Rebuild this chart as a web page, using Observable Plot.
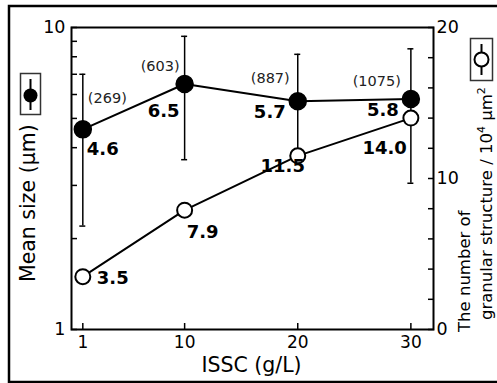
<!DOCTYPE html>
<html>
<head>
<meta charset="utf-8">
<script src="https://cdn.jsdelivr.net/npm/d3@7"></script>
<script src="https://cdn.jsdelivr.net/npm/@observablehq/plot@0.6"></script>
<style>
  html, body { margin: 0; padding: 0; background: #fff; }
  svg { display: block; }
</style>
</head>
<body>
<div id="chart"></div>
<script>
// ---- data ----
const issc = [1, 10, 20, 30];
const meanSize = [4.6, 6.5, 5.7, 5.8];
const sizeHigh = [7.0, 9.35, 8.15, 8.5];
const sizeLow = [2.2, 3.65, 3.9, 3.05];
const grainCount = [269, 603, 887, 1075];
const granularNumber = [3.5, 7.9, 11.5, 14.0];
const xTicks = [1, 10, 20, 30];
const leftTicks = [1, 2, 3, 4, 5, 6, 7, 8, 9, 10];
const leftTickLabels = [1, 10];
const rightTicks = [0, 2, 4, 6, 8, 10, 12, 14, 16, 18, 20];
const rightTickLabels = [0, 10, 20];

const sizeData = issc.map((c, i) => ({c, v: meanSize[i], hi: sizeHigh[i], lo: sizeLow[i], n: grainCount[i]}));
const numData = issc.map((c, i) => ({c, v: granularNumber[i]}));
// right axis (0–20, linear) mapped onto the shared log y scale (1–10)
const toLog = v => Math.pow(10, v / 20);

const FONT = "DejaVu Sans";

function label(data, i, text, opts) {
  return Plot.text(data, {filter: (d, j) => j === i, x: "c", text, fill: "#000", ...opts});
}

const chart = Plot.plot({
  width: 497,
  height: 383,
  marginLeft: 71,
  marginRight: 64,
  marginTop: 27,
  marginBottom: 54,
  style: {fontFamily: FONT, background: "white"},
  x: {type: "linear", domain: [0, 32]},
  y: {type: "log", domain: [1, 10]},
  marks: [
    Plot.axisX({ticks: xTicks, tickSize: -6, tickPadding: 12.8, fontSize: 17, label: null, strokeWidth: 1.5, fill: "#000"}),
    Plot.axisY({anchor: "left", ticks: leftTicks, tickFormat: d => leftTickLabels.includes(d) ? String(d) : "",
      tickSize: -6, tickPadding: 12, fontSize: 17.5, label: null, strokeWidth: 1.5, fill: "#000"}),
    Plot.axisY({anchor: "right", ticks: rightTicks.map(toLog),
      tickFormat: d => { const v = Math.round(20 * Math.log10(d)); return rightTickLabels.includes(v) ? String(v) : ""; },
      tickSize: -6, tickPadding: 9, fontSize: 17.5, label: null, strokeWidth: 1.5, fill: "#000"}),
    Plot.frame({stroke: "#000", strokeWidth: 2}),
    // error bars
    Plot.ruleX(sizeData, {x: "c", y1: "lo", y2: "hi", stroke: "#000", strokeWidth: 1.5}),
    Plot.ruleY(sizeData, {y: "hi", x1: "c", x2: "c", insetLeft: -3, insetRight: -3, stroke: "#000", strokeWidth: 1.5}),
    Plot.ruleY(sizeData, {y: "lo", x1: "c", x2: "c", insetLeft: -3, insetRight: -3, stroke: "#000", strokeWidth: 1.5}),
    // lines
    Plot.line(sizeData, {x: "c", y: "v", stroke: "#000", strokeWidth: 2}),
    Plot.line(numData, {x: "c", y: d => toLog(d.v), stroke: "#000", strokeWidth: 2}),
    // markers
    Plot.dot(sizeData, {x: "c", y: "v", r: 8.5, fill: "#000", stroke: "#000"}),
    Plot.dot(numData, {x: "c", y: d => toLog(d.v), r: 7.5, fill: "#fff", stroke: "#000", strokeWidth: 2}),
    // grain counts
    label(sizeData, 0, d => `(${d.n})`, {y: "v", textAnchor: "start", dx: 5, dy: -31, fontSize: 14.5, fill: "#222"}),
    label(sizeData, 1, d => `(${d.n})`, {y: "v", textAnchor: "end", dx: -5, dy: -18, fontSize: 14.5, fill: "#222"}),
    label(sizeData, 2, d => `(${d.n})`, {y: "v", textAnchor: "end", dx: -8, dy: -23, fontSize: 14.5, fill: "#222"}),
    label(sizeData, 3, d => `(${d.n})`, {y: "v", textAnchor: "end", dx: -10, dy: -18, fontSize: 14.5, fill: "#222"}),
    // mean size values
    label(sizeData, 0, d => d.v.toFixed(1), {y: "v", textAnchor: "start", dx: 4, dy: 20, fontSize: 18, fontWeight: "bold"}),
    label(sizeData, 1, d => d.v.toFixed(1), {y: "v", textAnchor: "end", dx: -5, dy: 27, fontSize: 18, fontWeight: "bold"}),
    label(sizeData, 2, d => d.v.toFixed(1), {y: "v", textAnchor: "end", dx: -12, dy: 11, fontSize: 18, fontWeight: "bold"}),
    label(sizeData, 3, d => d.v.toFixed(1), {y: "v", textAnchor: "end", dx: -12, dy: 11, fontSize: 18, fontWeight: "bold"}),
    // granular numbers
    label(numData, 0, d => d.v.toFixed(1), {y: d => toLog(d.v), textAnchor: "start", dx: 14, dy: 2, fontSize: 18, fontWeight: "bold"}),
    label(numData, 1, d => d.v.toFixed(1), {y: d => toLog(d.v), textAnchor: "start", dx: 2, dy: 22, fontSize: 18, fontWeight: "bold"}),
    label(numData, 2, d => d.v.toFixed(1), {y: d => toLog(d.v), textAnchor: "middle", dx: -15, dy: 10, fontSize: 18, fontWeight: "bold"}),
    label(numData, 3, d => d.v.toFixed(1), {y: d => toLog(d.v), textAnchor: "end", dx: -4, dy: 30, fontSize: 18, fontWeight: "bold"})
  ]
});

const svg = d3.select(chart);

// outer border
svg.append("rect").attr("x", 9).attr("y", 6).attr("width", 500).attr("height", 376)
  .attr("fill", "none").attr("stroke", "#000").attr("stroke-width", 2.5);

// axis titles
svg.append("text").attr("x", 251.5).attr("y", 372).attr("text-anchor", "middle")
  .attr("font-family", FONT).attr("font-size", 20.5).attr("fill", "#000").text("ISSC (g/L)");

svg.append("text").attr("transform", "translate(35,282) rotate(-90)").attr("text-anchor", "start")
  .attr("font-family", FONT).attr("font-size", 20.5).attr("fill", "#000").text("Mean size (µm)");

svg.append("text").attr("transform", "translate(470,332) rotate(-90)").attr("text-anchor", "start")
  .attr("font-family", FONT).attr("font-size", 16.5).attr("fill", "#000").text("The number of");

const t2 = svg.append("text").attr("transform", "translate(492,320) rotate(-90)").attr("text-anchor", "start")
  .attr("font-family", FONT).attr("font-size", 16.5).attr("fill", "#000");
t2.append("tspan").text("granular structure / 10");
t2.append("tspan").attr("dy", -7).attr("font-size", 11).text("4");
t2.append("tspan").attr("dy", 7).text(" µm");
t2.append("tspan").attr("dy", -7).attr("font-size", 11).text("2");

// legend symbols
const lg1 = svg.append("g");
lg1.append("rect").attr("x", 20.5).attr("y", 73.5).attr("width", 20).attr("height", 41)
  .attr("fill", "#fff").attr("stroke", "#333").attr("stroke-width", 1.5);
lg1.append("line").attr("x1", 30.5).attr("x2", 30.5).attr("y1", 79).attr("y2", 110).attr("stroke", "#000").attr("stroke-width", 2);
lg1.append("circle").attr("cx", 30.5).attr("cy", 95.5).attr("r", 7).attr("fill", "#000");

const lg2 = svg.append("g");
lg2.append("rect").attr("x", 470.5).attr("y", 38.5).attr("width", 22).attr("height", 42)
  .attr("fill", "#fff").attr("stroke", "#333").attr("stroke-width", 1.5);
lg2.append("line").attr("x1", 481.5).attr("x2", 481.5).attr("y1", 44).attr("y2", 75).attr("stroke", "#000").attr("stroke-width", 2);
lg2.append("circle").attr("cx", 481.5).attr("cy", 59.5).attr("r", 7).attr("fill", "#fff").attr("stroke", "#000").attr("stroke-width", 2);

document.getElementById("chart").appendChild(chart);
</script>
</body>
</html>
